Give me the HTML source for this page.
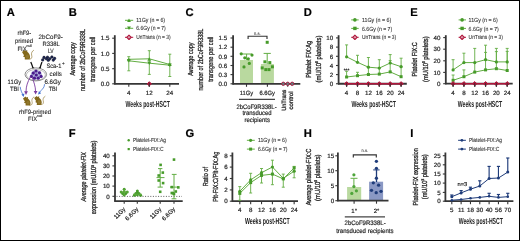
<!DOCTYPE html>
<html><head><meta charset="utf-8"><style>
html,body{margin:0;padding:0;background:#fff;}
svg{display:block;will-change:transform;}
text{font-family:"Liberation Sans", sans-serif;text-rendering:geometricPrecision;}
</style></head><body>
<svg xmlns="http://www.w3.org/2000/svg" width="520" height="241" viewBox="0 0 520 241">
<rect width="520" height="241" fill="#fff"/>
<rect x="0.5" y="0.5" width="519" height="240" fill="none" stroke="#000" stroke-width="1"/>
<text x="6.8" y="16.3" font-size="11.2" fill="#000" stroke="#000" stroke-width="0.18" font-weight="bold">A</text>
<text x="68.8" y="16.3" font-size="11.2" fill="#000" stroke="#000" stroke-width="0.18" font-weight="bold">B</text>
<text x="185.6" y="16.3" font-size="11.2" fill="#000" stroke="#000" stroke-width="0.18" font-weight="bold">C</text>
<text x="303.8" y="16.3" font-size="11.2" fill="#000" stroke="#000" stroke-width="0.18" font-weight="bold">D</text>
<text x="410.3" y="16.3" font-size="11.2" fill="#000" stroke="#000" stroke-width="0.18" font-weight="bold">E</text>
<text x="68.8" y="137.3" font-size="11.2" fill="#000" stroke="#000" stroke-width="0.18" font-weight="bold">F</text>
<text x="185.6" y="137.3" font-size="11.2" fill="#000" stroke="#000" stroke-width="0.18" font-weight="bold">G</text>
<text x="303.8" y="137.3" font-size="11.2" fill="#000" stroke="#000" stroke-width="0.18" font-weight="bold">H</text>
<text x="410.3" y="137.3" font-size="11.2" fill="#000" stroke="#000" stroke-width="0.18" font-weight="bold">I</text>
<g transform="translate(22 49.9) scale(1.07)"><path d="M0,2.0 L1.2,1.0 L2.6,0 L3.3,1.0 L5.0,0.4 L4.9,1.8 C6.4,2.8 7.5,4.6 7.5,6.4 C7.5,8.0 7.2,9.0 6.2,9.0 L2.6,9.0 C2.4,8.2 2.6,7.6 2.8,7.0 L1.0,6.2 L1.9,5.0 C1.4,4.2 0.6,3.2 0,2.0 Z" fill="#83681b"/><ellipse cx="5.0" cy="6.2" rx="1.6" ry="2.0" fill="#9a8238" opacity="0.6"/><path d="M7.0,8.8 C9.2,8.8 9.6,6.6 9.0,4.8 C8.5,3.2 9.3,1.2 10.8,0.4" fill="none" stroke="#83681b" stroke-width="0.7" stroke-linecap="round" opacity="0.8"/></g>
<g transform="translate(23 96.6) scale(1)"><path d="M0,2.0 L1.2,1.0 L2.6,0 L3.3,1.0 L5.0,0.4 L4.9,1.8 C6.4,2.8 7.5,4.6 7.5,6.4 C7.5,8.0 7.2,9.0 6.2,9.0 L2.6,9.0 C2.4,8.2 2.6,7.6 2.8,7.0 L1.0,6.2 L1.9,5.0 C1.4,4.2 0.6,3.2 0,2.0 Z" fill="#83681b"/><ellipse cx="5.0" cy="6.2" rx="1.6" ry="2.0" fill="#9a8238" opacity="0.6"/><path d="M7.0,8.8 C9.2,8.8 9.6,6.6 9.0,4.8 C8.5,3.2 9.3,1.2 10.8,0.4" fill="none" stroke="#83681b" stroke-width="0.7" stroke-linecap="round" opacity="0.8"/></g>
<g transform="translate(34.2 95.9) scale(1)"><path d="M0,2.0 L1.2,1.0 L2.6,0 L3.3,1.0 L5.0,0.4 L4.9,1.8 C6.4,2.8 7.5,4.6 7.5,6.4 C7.5,8.0 7.2,9.0 6.2,9.0 L2.6,9.0 C2.4,8.2 2.6,7.6 2.8,7.0 L1.0,6.2 L1.9,5.0 C1.4,4.2 0.6,3.2 0,2.0 Z" fill="#83681b"/><ellipse cx="5.0" cy="6.2" rx="1.6" ry="2.0" fill="#9a8238" opacity="0.6"/><path d="M7.0,8.8 C9.2,8.8 9.6,6.6 9.0,4.8 C8.5,3.2 9.3,1.2 10.8,0.4" fill="none" stroke="#83681b" stroke-width="0.7" stroke-linecap="round" opacity="0.8"/></g>
<circle cx="44" cy="57.4" r="1.3" fill="#1d2656" stroke="#0c0f1e" stroke-width="0.45"/>
<circle cx="42.7" cy="59.9" r="1.3" fill="#1d2656" stroke="#0c0f1e" stroke-width="0.45"/>
<circle cx="47.5" cy="57.2" r="1.3" fill="#1d2656" stroke="#0c0f1e" stroke-width="0.45"/>
<circle cx="46.3" cy="58.8" r="1.3" fill="#1d2656" stroke="#0c0f1e" stroke-width="0.45"/>
<circle cx="48.3" cy="60.3" r="1.3" fill="#1d2656" stroke="#0c0f1e" stroke-width="0.45"/>
<circle cx="49.8" cy="58.8" r="1.3" fill="#1d2656" stroke="#0c0f1e" stroke-width="0.45"/>
<circle cx="51.9" cy="57" r="1.3" fill="#1d2656" stroke="#0c0f1e" stroke-width="0.45"/>
<circle cx="53.3" cy="60.1" r="1.3" fill="#1d2656" stroke="#0c0f1e" stroke-width="0.45"/>
<circle cx="54.6" cy="58.4" r="1.3" fill="#1d2656" stroke="#0c0f1e" stroke-width="0.45"/>
<path d="M30.8,62.0 C31.6,64.2 32.5,66 33.0,68.4" fill="none" stroke="#111" stroke-width="1.25"/>
<polygon points="31.8,67.6 34.3,67.2 33.4,70.0" fill="#111"/>
<path d="M42.0,62.0 C41.2,64.2 40.4,66 40.0,68.4" fill="none" stroke="#111" stroke-width="1.25"/>
<polygon points="38.7,67.3 41.2,67.6 39.8,70.0" fill="#111"/>
<ellipse cx="35.8" cy="74.4" rx="10.8" ry="6.5" fill="#fff" stroke="#666" stroke-width="0.75"/>
<ellipse cx="35.9" cy="74.9" rx="9.5" ry="5.4" fill="none" stroke="#888" stroke-width="0.55"/>
<ellipse cx="36.3" cy="74.8" rx="5.6" ry="4.6" fill="#aeb0dc"/>
<circle cx="36" cy="71" r="1.6" fill="#4a1c8c"/>
<circle cx="33.3" cy="73.1" r="1.6" fill="#4a1c8c"/>
<circle cx="39.5" cy="72.8" r="1.6" fill="#4a1c8c"/>
<circle cx="36.3" cy="75" r="1.6" fill="#4a1c8c"/>
<circle cx="31.4" cy="76.4" r="1.6" fill="#4a1c8c"/>
<circle cx="41.1" cy="76.4" r="1.6" fill="#4a1c8c"/>
<circle cx="34.4" cy="78.2" r="1.6" fill="#4a1c8c"/>
<circle cx="38.2" cy="78.2" r="1.6" fill="#4a1c8c"/>
<path d="M30.6,76.5 C27.6,82 26.0,86 26.0,92.2" fill="none" stroke="#7a3c9e" stroke-width="0.9"/>
<polygon points="24.1,91.3 27.9,91.3 26.0,94.9" fill="#7a3c9e"/>
<path d="M32.2,77.0 C33.6,82 35.6,86 35.6,92.0" fill="none" stroke="#7a3c9e" stroke-width="0.9"/>
<polygon points="33.7,91.0 37.5,91.0 35.6,94.6" fill="#7a3c9e"/>
<path d="M20.2,86.8 C20.6,90.2 21.8,92.6 23.0,94.8" fill="none" stroke="#3e6fd0" stroke-width="0.8"/>
<polygon points="21.4,94.4 24.4,93.6 23.7,97.0" fill="#3e6fd0"/>
<path d="M44.5,84.2 C44.6,87.4 42.4,89.0 41.2,90.4 C40.6,91.2 40.0,92.0 39.6,92.8" fill="none" stroke="#3e6fd0" stroke-width="0.8"/>
<polygon points="39.0,91.0 41.0,93.4 38.0,94.6" fill="#3e6fd0"/>
<text x="24.3" y="35.4" font-size="6.3" fill="#222" stroke="#222" stroke-width="0.1" text-anchor="middle" textLength="13.6" lengthAdjust="spacingAndGlyphs">rhF9-</text>
<text x="24" y="43.2" font-size="6.3" fill="#222" stroke="#222" stroke-width="0.1" text-anchor="middle" textLength="18" lengthAdjust="spacingAndGlyphs">primed</text>
<text x="17.5" y="50.6" font-size="6.3" fill="#222" stroke="#222" stroke-width="0.1" textLength="9.2" lengthAdjust="spacingAndGlyphs">FIX</text>
<text x="26.6" y="46.8" font-size="3.6" fill="#222" stroke="#222" stroke-width="0.1" textLength="5.2" lengthAdjust="spacingAndGlyphs">null</text>
<text x="50.7" y="39" font-size="6.3" fill="#222" stroke="#222" stroke-width="0.1" text-anchor="middle" textLength="24.2" lengthAdjust="spacingAndGlyphs">2bCoF9-</text>
<text x="51.1" y="46" font-size="6.3" fill="#222" stroke="#222" stroke-width="0.1" text-anchor="middle" textLength="17.4" lengthAdjust="spacingAndGlyphs">R338L</text>
<text x="50.8" y="52.8" font-size="6.3" fill="#222" stroke="#222" stroke-width="0.1" text-anchor="middle" textLength="5.8" lengthAdjust="spacingAndGlyphs">LV</text>
<text x="46.4" y="67.9" font-size="6.3" fill="#222" stroke="#222" stroke-width="0.1" textLength="15" lengthAdjust="spacingAndGlyphs">Sca-1</text>
<text x="62" y="64.6" font-size="4.6" fill="#222" stroke="#222" stroke-width="0.1">+</text>
<text x="55.75" y="75.6" font-size="6.3" fill="#222" stroke="#222" stroke-width="0.1" text-anchor="middle" textLength="12.3" lengthAdjust="spacingAndGlyphs">cells</text>
<text x="14.4" y="83.7" font-size="6.3" fill="#222" stroke="#222" stroke-width="0.1" text-anchor="middle" textLength="13.6" lengthAdjust="spacingAndGlyphs">11Gy</text>
<text x="14.45" y="90.7" font-size="6.3" fill="#222" stroke="#222" stroke-width="0.1" text-anchor="middle" textLength="9.1" lengthAdjust="spacingAndGlyphs">TBI</text>
<text x="52.7" y="83.7" font-size="6.3" fill="#222" stroke="#222" stroke-width="0.1" text-anchor="middle" textLength="16.4" lengthAdjust="spacingAndGlyphs">6.6Gy</text>
<text x="53" y="90.7" font-size="6.3" fill="#222" stroke="#222" stroke-width="0.1" text-anchor="middle" textLength="8.7" lengthAdjust="spacingAndGlyphs">TBI</text>
<text x="35" y="114" font-size="6.3" fill="#222" stroke="#222" stroke-width="0.1" text-anchor="middle" textLength="31.8" lengthAdjust="spacingAndGlyphs">rhF9-primed</text>
<text x="28" y="121" font-size="6.3" fill="#222" stroke="#222" stroke-width="0.1" textLength="9.2" lengthAdjust="spacingAndGlyphs">FIX</text>
<text x="37.1" y="117.2" font-size="3.6" fill="#222" stroke="#222" stroke-width="0.1" textLength="5.2" lengthAdjust="spacingAndGlyphs">null</text>
<line x1="114.8" y1="35.2" x2="114.8" y2="84.4" stroke="#363636" stroke-width="1.8"/>
<line x1="112.2" y1="38.2" x2="114.8" y2="38.2" stroke="#363636" stroke-width="1.1"/>
<text x="109.4" y="40.43" font-size="6.2" fill="#222" stroke="#222" stroke-width="0.18" text-anchor="end">1.5</text>
<line x1="112.2" y1="53.4" x2="114.8" y2="53.4" stroke="#363636" stroke-width="1.1"/>
<text x="109.4" y="55.63" font-size="6.2" fill="#222" stroke="#222" stroke-width="0.18" text-anchor="end">1.0</text>
<line x1="112.2" y1="68.7" x2="114.8" y2="68.7" stroke="#363636" stroke-width="1.1"/>
<text x="109.4" y="70.93" font-size="6.2" fill="#222" stroke="#222" stroke-width="0.18" text-anchor="end">0.5</text>
<line x1="112.2" y1="83.8" x2="114.8" y2="83.8" stroke="#363636" stroke-width="1.1"/>
<text x="109.4" y="86.03" font-size="6.2" fill="#222" stroke="#222" stroke-width="0.18" text-anchor="end">0.0</text>
<line x1="114.2" y1="83.8" x2="179" y2="83.8" stroke="#363636" stroke-width="1.8"/>
<line x1="128.8" y1="83.8" x2="128.8" y2="86.8" stroke="#363636" stroke-width="1.1"/>
<text x="128.8" y="95.43" font-size="6.2" fill="#222" stroke="#222" stroke-width="0.18" text-anchor="middle">4</text>
<line x1="149.3" y1="83.8" x2="149.3" y2="86.8" stroke="#363636" stroke-width="1.1"/>
<text x="149.3" y="95.43" font-size="6.2" fill="#222" stroke="#222" stroke-width="0.18" text-anchor="middle">12</text>
<line x1="169.8" y1="83.8" x2="169.8" y2="86.8" stroke="#363636" stroke-width="1.1"/>
<text x="169.8" y="95.43" font-size="6.2" fill="#222" stroke="#222" stroke-width="0.18" text-anchor="middle">24</text>
<text x="125.6" y="106.6" font-size="8.8" fill="#222" font-weight="bold" textLength="44.2" lengthAdjust="spacingAndGlyphs">Weeks post-HSCT</text>
<text transform="translate(74.8 58.9) rotate(-90)" font-size="7.3" fill="#222" stroke="#222" stroke-width="0.28" text-anchor="middle" textLength="33.3" lengthAdjust="spacingAndGlyphs">Average copy</text>
<text transform="translate(84.8 60) rotate(-90)" font-size="7.3" fill="#222" stroke="#222" stroke-width="0.28" text-anchor="middle" textLength="62" lengthAdjust="spacingAndGlyphs">number of 2bCoF9R338L</text>
<text transform="translate(94.8 59.2) rotate(-90)" font-size="7.3" fill="#222" stroke="#222" stroke-width="0.28" text-anchor="middle" textLength="45" lengthAdjust="spacingAndGlyphs">transgene per cell</text>
<polyline points="128.8,59.3 149.3,58.8 169.8,64.5" fill="none" stroke="#62ad42" stroke-width="1"/>
<polyline points="128.8,60.8 149.3,63.2 169.8,65.2" fill="none" stroke="#62ad42" stroke-width="1"/>
<line x1="128.8" y1="56.7" x2="128.8" y2="70.8" stroke="#62ad42" stroke-width="0.9"/>
<line x1="127.3" y1="56.7" x2="130.3" y2="56.7" stroke="#62ad42" stroke-width="0.9"/>
<line x1="127.3" y1="70.8" x2="130.3" y2="70.8" stroke="#62ad42" stroke-width="0.9"/>
<line x1="149.3" y1="50.7" x2="149.3" y2="74.4" stroke="#62ad42" stroke-width="0.9"/>
<line x1="147.8" y1="50.7" x2="150.8" y2="50.7" stroke="#62ad42" stroke-width="0.9"/>
<line x1="147.8" y1="74.4" x2="150.8" y2="74.4" stroke="#62ad42" stroke-width="0.9"/>
<line x1="169.8" y1="54.2" x2="169.8" y2="76.5" stroke="#62ad42" stroke-width="0.9"/>
<line x1="168.3" y1="54.2" x2="171.3" y2="54.2" stroke="#62ad42" stroke-width="0.9"/>
<line x1="168.3" y1="76.5" x2="171.3" y2="76.5" stroke="#62ad42" stroke-width="0.9"/>
<polygon points="126.85,61.16 130.75,61.16 128.8,57.64" fill="#479b2a"/>
<polygon points="126.85,59.04 130.75,59.04 128.8,62.55" fill="#479b2a"/>
<polygon points="147.35,60.66 151.25,60.66 149.3,57.14" fill="#479b2a"/>
<polygon points="147.35,61.45 151.25,61.45 149.3,64.95" fill="#479b2a"/>
<polygon points="167.85,66.05 171.75,66.05 169.8,62.54" fill="#479b2a"/>
<polygon points="167.85,63.54 171.75,63.54 169.8,67.05" fill="#479b2a"/>
<polygon points="149.3,81.7 151.4,83.8 149.3,85.9 147.2,83.8" fill="#b0163c" stroke="#b0163c" stroke-width="1" stroke-linejoin="round"/>
<ellipse cx="149.3" cy="83.8" rx="0.46" ry="1.05" fill="#3a3030"/>
<line x1="149.3" y1="84.4" x2="149.3" y2="86.8" stroke="#363636" stroke-width="1.1"/>
<line x1="125" y1="20.3" x2="133.2" y2="20.3" stroke="#62ad42" stroke-width="1"/>
<polygon points="127.1,22.01 130.9,22.01 129,18.59" fill="#479b2a"/>
<text x="136.3" y="22.42" font-size="5.9" fill="#333" stroke="#333" stroke-width="0.1" textLength="28.8" lengthAdjust="spacingAndGlyphs">11Gy (n = 6)</text>
<line x1="125" y1="28.3" x2="133.2" y2="28.3" stroke="#62ad42" stroke-width="1"/>
<polygon points="127.1,26.59 130.9,26.59 129,30.01" fill="#479b2a"/>
<text x="136.3" y="30.42" font-size="5.9" fill="#333" stroke="#333" stroke-width="0.1" textLength="29.4" lengthAdjust="spacingAndGlyphs">6.6Gy (n = 7)</text>
<line x1="125" y1="37.3" x2="133.2" y2="37.3" stroke="#b0163c" stroke-width="1"/>
<polygon points="129,35.1 131.2,37.3 129,39.5 126.8,37.3" fill="#f0dde2" stroke="#b0163c" stroke-width="1.1" stroke-linejoin="round"/>
<line x1="129" y1="36.2" x2="129" y2="38.4" stroke="#b0163c" stroke-width="0.6"/>
<text x="136.3" y="39.42" font-size="5.9" fill="#333" stroke="#333" stroke-width="0.1" textLength="34.4" lengthAdjust="spacingAndGlyphs">UnTrans (n = 3)</text>
<line x1="233.1" y1="35.2" x2="233.1" y2="84.4" stroke="#363636" stroke-width="1.8"/>
<line x1="230.5" y1="38" x2="233.1" y2="38" stroke="#363636" stroke-width="1.1"/>
<text x="227.2" y="40.23" font-size="6.2" fill="#222" stroke="#222" stroke-width="0.18" text-anchor="end">1.5</text>
<line x1="230.5" y1="47.2" x2="233.1" y2="47.2" stroke="#363636" stroke-width="1.1"/>
<text x="227.2" y="49.43" font-size="6.2" fill="#222" stroke="#222" stroke-width="0.18" text-anchor="end">1.2</text>
<line x1="230.5" y1="56.3" x2="233.1" y2="56.3" stroke="#363636" stroke-width="1.1"/>
<text x="227.2" y="58.53" font-size="6.2" fill="#222" stroke="#222" stroke-width="0.18" text-anchor="end">0.9</text>
<line x1="230.5" y1="65.5" x2="233.1" y2="65.5" stroke="#363636" stroke-width="1.1"/>
<text x="227.2" y="67.73" font-size="6.2" fill="#222" stroke="#222" stroke-width="0.18" text-anchor="end">0.6</text>
<line x1="230.5" y1="74.6" x2="233.1" y2="74.6" stroke="#363636" stroke-width="1.1"/>
<text x="227.2" y="76.83" font-size="6.2" fill="#222" stroke="#222" stroke-width="0.18" text-anchor="end">0.3</text>
<line x1="230.5" y1="83.8" x2="233.1" y2="83.8" stroke="#363636" stroke-width="1.1"/>
<text x="227.2" y="86.03" font-size="6.2" fill="#222" stroke="#222" stroke-width="0.18" text-anchor="end">0.0</text>
<rect x="240" y="60" width="13" height="23.8" fill="#b9d99f"/>
<rect x="260.9" y="64" width="13" height="19.8" fill="#b9d99f"/>
<line x1="232.5" y1="83.8" x2="300.3" y2="83.8" stroke="#363636" stroke-width="1.8"/>
<line x1="246.5" y1="83.8" x2="246.5" y2="86.8" stroke="#363636" stroke-width="1.1"/>
<line x1="267.4" y1="83.8" x2="267.4" y2="86.8" stroke="#363636" stroke-width="1.1"/>
<line x1="287.7" y1="83.8" x2="287.7" y2="86.8" stroke="#363636" stroke-width="1.1"/>
<line x1="246.6" y1="54" x2="246.6" y2="60" stroke="#62ad42" stroke-width="1"/>
<line x1="241.2" y1="54" x2="252" y2="54" stroke="#62ad42" stroke-width="1"/>
<line x1="267.2" y1="53.4" x2="267.2" y2="64" stroke="#62ad42" stroke-width="1"/>
<line x1="263.6" y1="53.4" x2="270.8" y2="53.4" stroke="#62ad42" stroke-width="1"/>
<circle cx="241.2" cy="53.8" r="1.6" fill="#479b2a"/>
<circle cx="252" cy="55.1" r="1.6" fill="#479b2a"/>
<circle cx="244.8" cy="57.8" r="1.6" fill="#479b2a"/>
<circle cx="248.3" cy="58.8" r="1.6" fill="#479b2a"/>
<circle cx="249.3" cy="63.4" r="1.6" fill="#479b2a"/>
<circle cx="244" cy="66.9" r="1.6" fill="#479b2a"/>
<rect x="265.7" y="40.8" width="3" height="3" fill="#479b2a"/>
<rect x="263.4" y="60.3" width="3" height="3" fill="#479b2a"/>
<rect x="268.3" y="61.1" width="3" height="3" fill="#479b2a"/>
<rect x="270.9" y="65.3" width="3" height="3" fill="#479b2a"/>
<rect x="260.7" y="66.4" width="3" height="3" fill="#479b2a"/>
<rect x="264.3" y="68.1" width="3" height="3" fill="#479b2a"/>
<rect x="267.5" y="68.1" width="3" height="3" fill="#479b2a"/>
<circle cx="283.3" cy="83.8" r="1.7" fill="#5f8080" stroke="#b0163c" stroke-width="0.9"/>
<circle cx="287.7" cy="83.8" r="1.7" fill="#5f8080" stroke="#b0163c" stroke-width="0.9"/>
<circle cx="292.2" cy="83.8" r="1.7" fill="#5f8080" stroke="#b0163c" stroke-width="0.9"/>
<polyline points="248.1,38.9 248.1,36.2 267,36.2 267,38.9" fill="none" stroke="#333" stroke-width="1.15"/>
<text x="257.4" y="34.5" font-size="4.6" fill="#444" stroke="#444" stroke-width="0.1" text-anchor="middle" textLength="6.6" lengthAdjust="spacingAndGlyphs">n.s.</text>
<text x="246.4" y="95.05" font-size="6.2" fill="#222" stroke="#222" stroke-width="0.18" text-anchor="middle" textLength="13.4" lengthAdjust="spacingAndGlyphs">11Gy</text>
<text x="267.2" y="95.05" font-size="6.2" fill="#222" stroke="#222" stroke-width="0.18" text-anchor="middle" textLength="15.6" lengthAdjust="spacingAndGlyphs">6.6Gy</text>
<line x1="239" y1="99.3" x2="275" y2="99.3" stroke="#444" stroke-width="1.3"/>
<text x="256.5" y="109" font-size="6.4" fill="#222" stroke="#222" stroke-width="0.18" text-anchor="middle" textLength="40.2" lengthAdjust="spacingAndGlyphs">2bCoF9R338L-</text>
<text x="257" y="115.4" font-size="6.4" fill="#222" stroke="#222" stroke-width="0.18" text-anchor="middle" textLength="29.2" lengthAdjust="spacingAndGlyphs">transduced</text>
<text x="257.2" y="121.7" font-size="6.4" fill="#222" stroke="#222" stroke-width="0.18" text-anchor="middle" textLength="25.4" lengthAdjust="spacingAndGlyphs">recipients</text>
<text transform="translate(286 100.2) rotate(-90)" font-size="6.2" fill="#222" stroke="#222" stroke-width="0.28" text-anchor="middle" textLength="21.2" lengthAdjust="spacingAndGlyphs">UnTrans</text>
<text transform="translate(292.8 100.5) rotate(-90)" font-size="6.2" fill="#222" stroke="#222" stroke-width="0.28" text-anchor="middle" textLength="18" lengthAdjust="spacingAndGlyphs">control</text>
<text transform="translate(193 59.2) rotate(-90)" font-size="7.3" fill="#222" stroke="#222" stroke-width="0.28" text-anchor="middle" textLength="33.3" lengthAdjust="spacingAndGlyphs">Average copy</text>
<text transform="translate(203 59.6) rotate(-90)" font-size="7.3" fill="#222" stroke="#222" stroke-width="0.28" text-anchor="middle" textLength="62" lengthAdjust="spacingAndGlyphs">number of 2bCoF9R338L</text>
<text transform="translate(213.2 59.2) rotate(-90)" font-size="7.3" fill="#222" stroke="#222" stroke-width="0.28" text-anchor="middle" textLength="45" lengthAdjust="spacingAndGlyphs">transgene per cell</text>
<line x1="338.6" y1="35.2" x2="338.6" y2="84.35" stroke="#363636" stroke-width="1.8"/>
<line x1="336" y1="37.9" x2="338.6" y2="37.9" stroke="#363636" stroke-width="1.1"/>
<text x="333.2" y="40.13" font-size="6.2" fill="#222" stroke="#222" stroke-width="0.18" text-anchor="end">10</text>
<line x1="336" y1="47.1" x2="338.6" y2="47.1" stroke="#363636" stroke-width="1.1"/>
<text x="333.2" y="49.33" font-size="6.2" fill="#222" stroke="#222" stroke-width="0.18" text-anchor="end">8</text>
<line x1="336" y1="56.3" x2="338.6" y2="56.3" stroke="#363636" stroke-width="1.1"/>
<text x="333.2" y="58.53" font-size="6.2" fill="#222" stroke="#222" stroke-width="0.18" text-anchor="end">6</text>
<line x1="336" y1="65.5" x2="338.6" y2="65.5" stroke="#363636" stroke-width="1.1"/>
<text x="333.2" y="67.73" font-size="6.2" fill="#222" stroke="#222" stroke-width="0.18" text-anchor="end">4</text>
<line x1="336" y1="74.6" x2="338.6" y2="74.6" stroke="#363636" stroke-width="1.1"/>
<text x="333.2" y="76.83" font-size="6.2" fill="#222" stroke="#222" stroke-width="0.18" text-anchor="end">2</text>
<line x1="336" y1="83.75" x2="338.6" y2="83.75" stroke="#363636" stroke-width="1.1"/>
<text x="333.2" y="85.98" font-size="6.2" fill="#222" stroke="#222" stroke-width="0.18" text-anchor="end">0</text>
<line x1="338" y1="83.75" x2="406.8" y2="83.75" stroke="#363636" stroke-width="1.8"/>
<line x1="346.6" y1="83.75" x2="346.6" y2="86.75" stroke="#363636" stroke-width="1.1"/>
<text x="346.6" y="95.33" font-size="6.2" fill="#222" stroke="#222" stroke-width="0.18" text-anchor="middle">4</text>
<line x1="357.5" y1="83.75" x2="357.5" y2="86.75" stroke="#363636" stroke-width="1.1"/>
<text x="357.5" y="95.33" font-size="6.2" fill="#222" stroke="#222" stroke-width="0.18" text-anchor="middle">8</text>
<line x1="368.4" y1="83.75" x2="368.4" y2="86.75" stroke="#363636" stroke-width="1.1"/>
<text x="368.4" y="95.33" font-size="6.2" fill="#222" stroke="#222" stroke-width="0.18" text-anchor="middle">12</text>
<line x1="379.3" y1="83.75" x2="379.3" y2="86.75" stroke="#363636" stroke-width="1.1"/>
<text x="379.3" y="95.33" font-size="6.2" fill="#222" stroke="#222" stroke-width="0.18" text-anchor="middle">16</text>
<line x1="390.2" y1="83.75" x2="390.2" y2="86.75" stroke="#363636" stroke-width="1.1"/>
<text x="390.2" y="95.33" font-size="6.2" fill="#222" stroke="#222" stroke-width="0.18" text-anchor="middle">20</text>
<line x1="401.1" y1="83.75" x2="401.1" y2="86.75" stroke="#363636" stroke-width="1.1"/>
<text x="401.1" y="95.33" font-size="6.2" fill="#222" stroke="#222" stroke-width="0.18" text-anchor="middle">24</text>
<text x="351.4" y="106.6" font-size="8.8" fill="#222" font-weight="bold" textLength="44.5" lengthAdjust="spacingAndGlyphs">Weeks post-HSCT</text>
<polyline points="346.6,56.8 357.5,62.3 368.4,67.2 379.3,68.1 390.2,63 401.1,66.7" fill="none" stroke="#62ad42" stroke-width="1"/>
<polyline points="346.6,77 357.5,75.7 368.4,74.5 379.3,74.1 390.2,71.9 401.1,76.7" fill="none" stroke="#62ad42" stroke-width="1"/>
<line x1="346.6" y1="44.9" x2="346.6" y2="56.8" stroke="#62ad42" stroke-width="0.9"/>
<line x1="345.1" y1="44.9" x2="348.1" y2="44.9" stroke="#62ad42" stroke-width="0.9"/>
<line x1="357.5" y1="55.3" x2="357.5" y2="62.3" stroke="#62ad42" stroke-width="0.9"/>
<line x1="356" y1="55.3" x2="359" y2="55.3" stroke="#62ad42" stroke-width="0.9"/>
<line x1="368.4" y1="57.5" x2="368.4" y2="67.2" stroke="#62ad42" stroke-width="0.9"/>
<line x1="366.9" y1="57.5" x2="369.9" y2="57.5" stroke="#62ad42" stroke-width="0.9"/>
<line x1="379.3" y1="59.7" x2="379.3" y2="68.1" stroke="#62ad42" stroke-width="0.9"/>
<line x1="377.8" y1="59.7" x2="380.8" y2="59.7" stroke="#62ad42" stroke-width="0.9"/>
<line x1="390.2" y1="54.6" x2="390.2" y2="63" stroke="#62ad42" stroke-width="0.9"/>
<line x1="388.7" y1="54.6" x2="391.7" y2="54.6" stroke="#62ad42" stroke-width="0.9"/>
<line x1="401.1" y1="58.2" x2="401.1" y2="66.7" stroke="#62ad42" stroke-width="0.9"/>
<line x1="399.6" y1="58.2" x2="402.6" y2="58.2" stroke="#62ad42" stroke-width="0.9"/>
<line x1="346.6" y1="71.3" x2="346.6" y2="77" stroke="#62ad42" stroke-width="0.9"/>
<line x1="345.1" y1="71.3" x2="348.1" y2="71.3" stroke="#62ad42" stroke-width="0.9"/>
<line x1="357.5" y1="72.3" x2="357.5" y2="75.7" stroke="#62ad42" stroke-width="0.9"/>
<line x1="356" y1="72.3" x2="359" y2="72.3" stroke="#62ad42" stroke-width="0.9"/>
<line x1="368.4" y1="67.2" x2="368.4" y2="74.5" stroke="#62ad42" stroke-width="0.9"/>
<line x1="366.9" y1="67.2" x2="369.9" y2="67.2" stroke="#62ad42" stroke-width="0.9"/>
<line x1="379.3" y1="68.1" x2="379.3" y2="74.1" stroke="#62ad42" stroke-width="0.9"/>
<line x1="377.8" y1="68.1" x2="380.8" y2="68.1" stroke="#62ad42" stroke-width="0.9"/>
<line x1="390.2" y1="60.6" x2="390.2" y2="71.9" stroke="#62ad42" stroke-width="0.9"/>
<line x1="388.7" y1="60.6" x2="391.7" y2="60.6" stroke="#62ad42" stroke-width="0.9"/>
<line x1="401.1" y1="66.7" x2="401.1" y2="76.7" stroke="#62ad42" stroke-width="0.9"/>
<line x1="399.6" y1="66.7" x2="402.6" y2="66.7" stroke="#62ad42" stroke-width="0.9"/>
<circle cx="346.6" cy="56.8" r="1.6" fill="#479b2a"/>
<circle cx="357.5" cy="62.3" r="1.6" fill="#479b2a"/>
<circle cx="368.4" cy="67.2" r="1.6" fill="#479b2a"/>
<circle cx="379.3" cy="68.1" r="1.6" fill="#479b2a"/>
<circle cx="390.2" cy="63" r="1.6" fill="#479b2a"/>
<circle cx="401.1" cy="66.7" r="1.6" fill="#479b2a"/>
<rect x="345.1" y="75.5" width="3" height="3" fill="#479b2a"/>
<rect x="356" y="74.2" width="3" height="3" fill="#479b2a"/>
<rect x="366.9" y="73" width="3" height="3" fill="#479b2a"/>
<rect x="377.8" y="72.6" width="3" height="3" fill="#479b2a"/>
<rect x="388.7" y="70.4" width="3" height="3" fill="#479b2a"/>
<rect x="399.6" y="75.2" width="3" height="3" fill="#479b2a"/>
<line x1="346.6" y1="83.75" x2="401.1" y2="83.75" stroke="#b0163c" stroke-width="1.6"/>
<polygon points="346.6,81.65 348.7,83.75 346.6,85.85 344.5,83.75" fill="#b0163c" stroke="#b0163c" stroke-width="1" stroke-linejoin="round"/>
<ellipse cx="346.6" cy="83.75" rx="0.46" ry="1.05" fill="#3a3030"/>
<line x1="346.6" y1="84.35" x2="346.6" y2="86.75" stroke="#363636" stroke-width="1.1"/>
<polygon points="357.5,81.65 359.6,83.75 357.5,85.85 355.4,83.75" fill="#b0163c" stroke="#b0163c" stroke-width="1" stroke-linejoin="round"/>
<ellipse cx="357.5" cy="83.75" rx="0.46" ry="1.05" fill="#3a3030"/>
<line x1="357.5" y1="84.35" x2="357.5" y2="86.75" stroke="#363636" stroke-width="1.1"/>
<polygon points="368.4,81.65 370.5,83.75 368.4,85.85 366.3,83.75" fill="#b0163c" stroke="#b0163c" stroke-width="1" stroke-linejoin="round"/>
<ellipse cx="368.4" cy="83.75" rx="0.46" ry="1.05" fill="#3a3030"/>
<line x1="368.4" y1="84.35" x2="368.4" y2="86.75" stroke="#363636" stroke-width="1.1"/>
<polygon points="379.3,81.65 381.4,83.75 379.3,85.85 377.2,83.75" fill="#b0163c" stroke="#b0163c" stroke-width="1" stroke-linejoin="round"/>
<ellipse cx="379.3" cy="83.75" rx="0.46" ry="1.05" fill="#3a3030"/>
<line x1="379.3" y1="84.35" x2="379.3" y2="86.75" stroke="#363636" stroke-width="1.1"/>
<polygon points="390.2,81.65 392.3,83.75 390.2,85.85 388.1,83.75" fill="#b0163c" stroke="#b0163c" stroke-width="1" stroke-linejoin="round"/>
<ellipse cx="390.2" cy="83.75" rx="0.46" ry="1.05" fill="#3a3030"/>
<line x1="390.2" y1="84.35" x2="390.2" y2="86.75" stroke="#363636" stroke-width="1.1"/>
<polygon points="401.1,81.65 403.2,83.75 401.1,85.85 399,83.75" fill="#b0163c" stroke="#b0163c" stroke-width="1" stroke-linejoin="round"/>
<ellipse cx="401.1" cy="83.75" rx="0.46" ry="1.05" fill="#3a3030"/>
<line x1="401.1" y1="84.35" x2="401.1" y2="86.75" stroke="#363636" stroke-width="1.1"/>
<text x="346.6" y="71.6" font-size="5" fill="#222" stroke="#222" stroke-width="0.18" text-anchor="middle" textLength="5.8" lengthAdjust="spacingAndGlyphs">***</text>
<line x1="351.2" y1="19.9" x2="358.7" y2="19.9" stroke="#62ad42" stroke-width="1"/>
<circle cx="354.9" cy="19.9" r="1.8" fill="#479b2a"/>
<text x="362" y="22.02" font-size="5.9" fill="#333" stroke="#333" stroke-width="0.1" textLength="29.2" lengthAdjust="spacingAndGlyphs">11Gy (n = 6)</text>
<line x1="351.2" y1="28.4" x2="358.7" y2="28.4" stroke="#62ad42" stroke-width="1"/>
<rect x="353.2" y="26.7" width="3.4" height="3.4" fill="#479b2a"/>
<text x="362" y="30.52" font-size="5.9" fill="#333" stroke="#333" stroke-width="0.1" textLength="30.2" lengthAdjust="spacingAndGlyphs">6.6Gy (n = 7)</text>
<line x1="351.2" y1="37.3" x2="358.7" y2="37.3" stroke="#b0163c" stroke-width="1"/>
<polygon points="354.9,35.1 357.1,37.3 354.9,39.5 352.7,37.3" fill="#f0dde2" stroke="#b0163c" stroke-width="1.1" stroke-linejoin="round"/>
<line x1="354.9" y1="36.2" x2="354.9" y2="38.4" stroke="#b0163c" stroke-width="0.6"/>
<text x="362" y="39.42" font-size="5.9" fill="#333" stroke="#333" stroke-width="0.1" textLength="34.2" lengthAdjust="spacingAndGlyphs">UnTrans (n = 3)</text>
<text transform="translate(310.8 59.4) rotate(-90)" font-size="7.3" fill="#222" stroke="#222" stroke-width="0.28" text-anchor="middle" textLength="36.8" lengthAdjust="spacingAndGlyphs">Platelet FIX:Ag</text>
<text transform="translate(321 59) rotate(-90)" font-size="7.3" fill="#222" stroke="#222" stroke-width="0.28" text-anchor="middle" textLength="46.8" lengthAdjust="spacingAndGlyphs">(mU/10<tspan font-size="4" dy="-2.6">8</tspan><tspan dy="2.6"> platelets)</tspan></text>
<line x1="445.8" y1="35.2" x2="445.8" y2="84.3" stroke="#363636" stroke-width="1.8"/>
<line x1="443.2" y1="37.6" x2="445.8" y2="37.6" stroke="#363636" stroke-width="1.1"/>
<text x="440.4" y="39.83" font-size="6.2" fill="#222" stroke="#222" stroke-width="0.18" text-anchor="end">40</text>
<line x1="443.2" y1="49.2" x2="445.8" y2="49.2" stroke="#363636" stroke-width="1.1"/>
<text x="440.4" y="51.43" font-size="6.2" fill="#222" stroke="#222" stroke-width="0.18" text-anchor="end">30</text>
<line x1="443.2" y1="60.8" x2="445.8" y2="60.8" stroke="#363636" stroke-width="1.1"/>
<text x="440.4" y="63.03" font-size="6.2" fill="#222" stroke="#222" stroke-width="0.18" text-anchor="end">20</text>
<line x1="443.2" y1="72.4" x2="445.8" y2="72.4" stroke="#363636" stroke-width="1.1"/>
<text x="440.4" y="74.63" font-size="6.2" fill="#222" stroke="#222" stroke-width="0.18" text-anchor="end">10</text>
<line x1="443.2" y1="83.7" x2="445.8" y2="83.7" stroke="#363636" stroke-width="1.1"/>
<text x="440.4" y="85.93" font-size="6.2" fill="#222" stroke="#222" stroke-width="0.18" text-anchor="end">0</text>
<line x1="445.2" y1="83.7" x2="512.7" y2="83.7" stroke="#363636" stroke-width="1.8"/>
<line x1="453.1" y1="83.7" x2="453.1" y2="86.7" stroke="#363636" stroke-width="1.1"/>
<text x="453.1" y="95.13" font-size="6.2" fill="#222" stroke="#222" stroke-width="0.18" text-anchor="middle">4</text>
<line x1="463.92" y1="83.7" x2="463.92" y2="86.7" stroke="#363636" stroke-width="1.1"/>
<text x="463.92" y="95.13" font-size="6.2" fill="#222" stroke="#222" stroke-width="0.18" text-anchor="middle">8</text>
<line x1="474.74" y1="83.7" x2="474.74" y2="86.7" stroke="#363636" stroke-width="1.1"/>
<text x="474.74" y="95.13" font-size="6.2" fill="#222" stroke="#222" stroke-width="0.18" text-anchor="middle">12</text>
<line x1="485.56" y1="83.7" x2="485.56" y2="86.7" stroke="#363636" stroke-width="1.1"/>
<text x="485.56" y="95.13" font-size="6.2" fill="#222" stroke="#222" stroke-width="0.18" text-anchor="middle">16</text>
<line x1="496.38" y1="83.7" x2="496.38" y2="86.7" stroke="#363636" stroke-width="1.1"/>
<text x="496.38" y="95.13" font-size="6.2" fill="#222" stroke="#222" stroke-width="0.18" text-anchor="middle">20</text>
<line x1="507.2" y1="83.7" x2="507.2" y2="86.7" stroke="#363636" stroke-width="1.1"/>
<text x="507.2" y="95.13" font-size="6.2" fill="#222" stroke="#222" stroke-width="0.18" text-anchor="middle">24</text>
<text x="457.8" y="106.6" font-size="8.8" fill="#222" font-weight="bold" textLength="44.4" lengthAdjust="spacingAndGlyphs">Weeks post-HSCT</text>
<polyline points="453.1,69.9 463.92,62.6 474.74,62.6 485.56,59.7 496.38,61.9 507.2,61.9" fill="none" stroke="#62ad42" stroke-width="1"/>
<polyline points="453.1,80.3 463.92,76.7 474.74,72.1 485.56,69.9 496.38,68.7 507.2,70.5" fill="none" stroke="#62ad42" stroke-width="1"/>
<line x1="453.1" y1="59.7" x2="453.1" y2="69.9" stroke="#62ad42" stroke-width="0.9"/>
<line x1="451.6" y1="59.7" x2="454.6" y2="59.7" stroke="#62ad42" stroke-width="0.9"/>
<line x1="463.92" y1="53.2" x2="463.92" y2="62.6" stroke="#62ad42" stroke-width="0.9"/>
<line x1="462.42" y1="53.2" x2="465.42" y2="53.2" stroke="#62ad42" stroke-width="0.9"/>
<line x1="474.74" y1="48.4" x2="474.74" y2="62.6" stroke="#62ad42" stroke-width="0.9"/>
<line x1="473.24" y1="48.4" x2="476.24" y2="48.4" stroke="#62ad42" stroke-width="0.9"/>
<line x1="485.56" y1="45.2" x2="485.56" y2="59.7" stroke="#62ad42" stroke-width="0.9"/>
<line x1="484.06" y1="45.2" x2="487.06" y2="45.2" stroke="#62ad42" stroke-width="0.9"/>
<line x1="496.38" y1="48.4" x2="496.38" y2="61.9" stroke="#62ad42" stroke-width="0.9"/>
<line x1="494.88" y1="48.4" x2="497.88" y2="48.4" stroke="#62ad42" stroke-width="0.9"/>
<line x1="507.2" y1="48.4" x2="507.2" y2="61.9" stroke="#62ad42" stroke-width="0.9"/>
<line x1="505.7" y1="48.4" x2="508.7" y2="48.4" stroke="#62ad42" stroke-width="0.9"/>
<line x1="453.1" y1="75" x2="453.1" y2="80.3" stroke="#62ad42" stroke-width="0.9"/>
<line x1="451.6" y1="75" x2="454.6" y2="75" stroke="#62ad42" stroke-width="0.9"/>
<line x1="463.92" y1="69.9" x2="463.92" y2="76.7" stroke="#62ad42" stroke-width="0.9"/>
<line x1="462.42" y1="69.9" x2="465.42" y2="69.9" stroke="#62ad42" stroke-width="0.9"/>
<line x1="474.74" y1="62.6" x2="474.74" y2="72.1" stroke="#62ad42" stroke-width="0.9"/>
<line x1="473.24" y1="62.6" x2="476.24" y2="62.6" stroke="#62ad42" stroke-width="0.9"/>
<line x1="485.56" y1="52.4" x2="485.56" y2="69.9" stroke="#62ad42" stroke-width="0.9"/>
<line x1="484.06" y1="52.4" x2="487.06" y2="52.4" stroke="#62ad42" stroke-width="0.9"/>
<line x1="496.38" y1="51.6" x2="496.38" y2="68.7" stroke="#62ad42" stroke-width="0.9"/>
<line x1="494.88" y1="51.6" x2="497.88" y2="51.6" stroke="#62ad42" stroke-width="0.9"/>
<line x1="507.2" y1="51.4" x2="507.2" y2="70.5" stroke="#62ad42" stroke-width="0.9"/>
<line x1="505.7" y1="51.4" x2="508.7" y2="51.4" stroke="#62ad42" stroke-width="0.9"/>
<circle cx="453.1" cy="69.9" r="1.6" fill="#479b2a"/>
<circle cx="463.92" cy="62.6" r="1.6" fill="#479b2a"/>
<circle cx="474.74" cy="62.6" r="1.6" fill="#479b2a"/>
<circle cx="485.56" cy="59.7" r="1.6" fill="#479b2a"/>
<circle cx="496.38" cy="61.9" r="1.6" fill="#479b2a"/>
<circle cx="507.2" cy="61.9" r="1.6" fill="#479b2a"/>
<rect x="451.6" y="78.8" width="3" height="3" fill="#479b2a"/>
<rect x="462.42" y="75.2" width="3" height="3" fill="#479b2a"/>
<rect x="473.24" y="70.6" width="3" height="3" fill="#479b2a"/>
<rect x="484.06" y="68.4" width="3" height="3" fill="#479b2a"/>
<rect x="494.88" y="67.2" width="3" height="3" fill="#479b2a"/>
<rect x="505.7" y="69" width="3" height="3" fill="#479b2a"/>
<line x1="453.1" y1="83.7" x2="507.2" y2="83.7" stroke="#b0163c" stroke-width="1.6"/>
<polygon points="453.1,81.6 455.2,83.7 453.1,85.8 451,83.7" fill="#b0163c" stroke="#b0163c" stroke-width="1" stroke-linejoin="round"/>
<ellipse cx="453.1" cy="83.7" rx="0.46" ry="1.05" fill="#3a3030"/>
<line x1="453.1" y1="84.3" x2="453.1" y2="86.7" stroke="#363636" stroke-width="1.1"/>
<polygon points="463.92,81.6 466.02,83.7 463.92,85.8 461.82,83.7" fill="#b0163c" stroke="#b0163c" stroke-width="1" stroke-linejoin="round"/>
<ellipse cx="463.92" cy="83.7" rx="0.46" ry="1.05" fill="#3a3030"/>
<line x1="463.92" y1="84.3" x2="463.92" y2="86.7" stroke="#363636" stroke-width="1.1"/>
<polygon points="474.74,81.6 476.84,83.7 474.74,85.8 472.64,83.7" fill="#b0163c" stroke="#b0163c" stroke-width="1" stroke-linejoin="round"/>
<ellipse cx="474.74" cy="83.7" rx="0.46" ry="1.05" fill="#3a3030"/>
<line x1="474.74" y1="84.3" x2="474.74" y2="86.7" stroke="#363636" stroke-width="1.1"/>
<polygon points="485.56,81.6 487.66,83.7 485.56,85.8 483.46,83.7" fill="#b0163c" stroke="#b0163c" stroke-width="1" stroke-linejoin="round"/>
<ellipse cx="485.56" cy="83.7" rx="0.46" ry="1.05" fill="#3a3030"/>
<line x1="485.56" y1="84.3" x2="485.56" y2="86.7" stroke="#363636" stroke-width="1.1"/>
<polygon points="496.38,81.6 498.48,83.7 496.38,85.8 494.28,83.7" fill="#b0163c" stroke="#b0163c" stroke-width="1" stroke-linejoin="round"/>
<ellipse cx="496.38" cy="83.7" rx="0.46" ry="1.05" fill="#3a3030"/>
<line x1="496.38" y1="84.3" x2="496.38" y2="86.7" stroke="#363636" stroke-width="1.1"/>
<polygon points="507.2,81.6 509.3,83.7 507.2,85.8 505.1,83.7" fill="#b0163c" stroke="#b0163c" stroke-width="1" stroke-linejoin="round"/>
<ellipse cx="507.2" cy="83.7" rx="0.46" ry="1.05" fill="#3a3030"/>
<line x1="507.2" y1="84.3" x2="507.2" y2="86.7" stroke="#363636" stroke-width="1.1"/>
<line x1="458.6" y1="19.9" x2="466" y2="19.9" stroke="#62ad42" stroke-width="1"/>
<circle cx="462.1" cy="19.9" r="1.8" fill="#479b2a"/>
<text x="468.6" y="22.02" font-size="5.9" fill="#333" stroke="#333" stroke-width="0.1" textLength="29.2" lengthAdjust="spacingAndGlyphs">11Gy (n = 6)</text>
<line x1="458.6" y1="28.4" x2="466" y2="28.4" stroke="#62ad42" stroke-width="1"/>
<rect x="460.4" y="26.7" width="3.4" height="3.4" fill="#479b2a"/>
<text x="468.6" y="30.52" font-size="5.9" fill="#333" stroke="#333" stroke-width="0.1" textLength="30.2" lengthAdjust="spacingAndGlyphs">6.6Gy (n = 7)</text>
<line x1="458.6" y1="37.3" x2="466" y2="37.3" stroke="#b0163c" stroke-width="1"/>
<polygon points="462.1,35.1 464.3,37.3 462.1,39.5 459.9,37.3" fill="#f0dde2" stroke="#b0163c" stroke-width="1.1" stroke-linejoin="round"/>
<line x1="462.1" y1="36.2" x2="462.1" y2="38.4" stroke="#b0163c" stroke-width="0.6"/>
<text x="468.6" y="39.42" font-size="5.9" fill="#333" stroke="#333" stroke-width="0.1" textLength="34.2" lengthAdjust="spacingAndGlyphs">UnTrans (n = 3)</text>
<text transform="translate(416.9 59.3) rotate(-90)" font-size="7.3" fill="#222" stroke="#222" stroke-width="0.28" text-anchor="middle" textLength="34.2" lengthAdjust="spacingAndGlyphs">Platelet FIX:C</text>
<text transform="translate(427.5 59.2) rotate(-90)" font-size="7.3" fill="#222" stroke="#222" stroke-width="0.28" text-anchor="middle" textLength="45.5" lengthAdjust="spacingAndGlyphs">(mU/10<tspan font-size="4" dy="-2.6">8</tspan><tspan dy="2.6"> platelets)</tspan></text>
<line x1="115" y1="152.5" x2="115" y2="201.8" stroke="#363636" stroke-width="1.8"/>
<line x1="112.4" y1="155.8" x2="115" y2="155.8" stroke="#363636" stroke-width="1.1"/>
<text x="109.8" y="158.03" font-size="6.2" fill="#222" stroke="#222" stroke-width="0.18" text-anchor="end">40</text>
<line x1="112.4" y1="165.9" x2="115" y2="165.9" stroke="#363636" stroke-width="1.1"/>
<text x="109.8" y="168.13" font-size="6.2" fill="#222" stroke="#222" stroke-width="0.18" text-anchor="end">30</text>
<line x1="112.4" y1="176" x2="115" y2="176" stroke="#363636" stroke-width="1.1"/>
<text x="109.8" y="178.23" font-size="6.2" fill="#222" stroke="#222" stroke-width="0.18" text-anchor="end">20</text>
<line x1="112.4" y1="186.1" x2="115" y2="186.1" stroke="#363636" stroke-width="1.1"/>
<text x="109.8" y="188.33" font-size="6.2" fill="#222" stroke="#222" stroke-width="0.18" text-anchor="end">10</text>
<line x1="112.4" y1="196.3" x2="115" y2="196.3" stroke="#363636" stroke-width="1.1"/>
<text x="109.8" y="198.53" font-size="6.2" fill="#222" stroke="#222" stroke-width="0.18" text-anchor="end">0</text>
<line x1="114.4" y1="201.2" x2="182.7" y2="201.2" stroke="#363636" stroke-width="1.8"/>
<line x1="124.2" y1="201.2" x2="124.2" y2="203.8" stroke="#363636" stroke-width="1.1"/>
<line x1="137.3" y1="201.2" x2="137.3" y2="203.8" stroke="#363636" stroke-width="1.1"/>
<line x1="160.2" y1="201.2" x2="160.2" y2="203.8" stroke="#363636" stroke-width="1.1"/>
<line x1="174" y1="201.2" x2="174" y2="203.8" stroke="#363636" stroke-width="1.1"/>
<line x1="116.5" y1="196.4" x2="182" y2="196.4" stroke="#333" stroke-width="0.8" stroke-dasharray="1.0 1.6"/>
<circle cx="124.2" cy="189.3" r="1.5" fill="#479b2a"/>
<circle cx="121.2" cy="192" r="1.5" fill="#479b2a"/>
<circle cx="127.2" cy="192" r="1.5" fill="#479b2a"/>
<circle cx="124.2" cy="195" r="1.5" fill="#479b2a"/>
<circle cx="122.7" cy="193.4" r="1.5" fill="#479b2a"/>
<circle cx="125.7" cy="193.4" r="1.5" fill="#479b2a"/>
<circle cx="124.2" cy="191.8" r="1.5" fill="#479b2a"/>
<line x1="120" y1="192" x2="128.4" y2="192" stroke="#62ad42" stroke-width="1"/>
<line x1="124.2" y1="188.6" x2="124.2" y2="195.6" stroke="#62ad42" stroke-width="1"/>
<circle cx="137.4" cy="190.9" r="1.5" fill="#479b2a"/>
<circle cx="135.8" cy="193.6" r="1.5" fill="#479b2a"/>
<circle cx="139" cy="193.6" r="1.5" fill="#479b2a"/>
<circle cx="137.4" cy="194.8" r="1.5" fill="#479b2a"/>
<circle cx="134.4" cy="195.3" r="1.5" fill="#479b2a"/>
<circle cx="140.6" cy="195.3" r="1.5" fill="#479b2a"/>
<circle cx="137.4" cy="192.8" r="1.5" fill="#479b2a"/>
<line x1="133" y1="194.2" x2="141.8" y2="194.2" stroke="#62ad42" stroke-width="1"/>
<line x1="160.2" y1="168.6" x2="160.2" y2="187.1" stroke="#62ad42" stroke-width="1"/>
<line x1="158" y1="168.6" x2="162.4" y2="168.6" stroke="#62ad42" stroke-width="1"/>
<line x1="157.6" y1="187.1" x2="162.8" y2="187.1" stroke="#62ad42" stroke-width="1"/>
<line x1="156.5" y1="177.6" x2="164.5" y2="177.6" stroke="#62ad42" stroke-width="1"/>
<rect x="159.3" y="163.6" width="2.6" height="2.6" fill="#479b2a"/>
<rect x="161.5" y="171.3" width="2.6" height="2.6" fill="#479b2a"/>
<rect x="157.4" y="174.2" width="2.6" height="2.6" fill="#479b2a"/>
<rect x="157.4" y="179.2" width="2.6" height="2.6" fill="#479b2a"/>
<rect x="161.8" y="181.8" width="2.6" height="2.6" fill="#479b2a"/>
<rect x="158.9" y="190.5" width="2.6" height="2.6" fill="#479b2a"/>
<line x1="174" y1="174.4" x2="174" y2="198.8" stroke="#62ad42" stroke-width="1"/>
<line x1="171.8" y1="174.4" x2="176.6" y2="174.4" stroke="#62ad42" stroke-width="1"/>
<line x1="171.6" y1="198.8" x2="176.4" y2="198.8" stroke="#62ad42" stroke-width="1"/>
<line x1="170" y1="187.1" x2="179" y2="187.1" stroke="#62ad42" stroke-width="1"/>
<rect x="172.7" y="158.3" width="2.6" height="2.6" fill="#479b2a"/>
<rect x="170.5" y="185.8" width="2.6" height="2.6" fill="#479b2a"/>
<rect x="177" y="186.1" width="2.6" height="2.6" fill="#479b2a"/>
<rect x="174.5" y="190.2" width="2.6" height="2.6" fill="#479b2a"/>
<rect x="170.5" y="191.7" width="2.6" height="2.6" fill="#479b2a"/>
<rect x="172.7" y="192.7" width="2.6" height="2.6" fill="#479b2a"/>
<rect x="171.7" y="191.9" width="2.6" height="2.6" fill="#479b2a"/>
<text transform="translate(125.8 209.6) rotate(-45)" font-size="6" fill="#222" stroke="#222" stroke-width="0.18" text-anchor="end" textLength="13.6" lengthAdjust="spacingAndGlyphs">11Gy</text>
<text transform="translate(138.9 209.6) rotate(-45)" font-size="6" fill="#222" stroke="#222" stroke-width="0.18" text-anchor="end" textLength="16" lengthAdjust="spacingAndGlyphs">6.6Gy</text>
<text transform="translate(161.8 209.6) rotate(-45)" font-size="6" fill="#222" stroke="#222" stroke-width="0.18" text-anchor="end" textLength="13.6" lengthAdjust="spacingAndGlyphs">11Gy</text>
<text transform="translate(175.6 209.6) rotate(-45)" font-size="6" fill="#222" stroke="#222" stroke-width="0.18" text-anchor="end" textLength="16" lengthAdjust="spacingAndGlyphs">6.6Gy</text>
<circle cx="128.7" cy="140.3" r="1.2" fill="#479b2a"/>
<text x="132.9" y="142.42" font-size="5.9" fill="#333" stroke="#333" stroke-width="0.1" textLength="33" lengthAdjust="spacingAndGlyphs">Platelet-FIX:Ag</text>
<rect x="127.6" y="148" width="2.2" height="2.2" fill="#479b2a"/>
<text x="132.9" y="151.22" font-size="5.9" fill="#333" stroke="#333" stroke-width="0.1" textLength="30.7" lengthAdjust="spacingAndGlyphs">Platelet-FIX:C</text>
<text transform="translate(85.9 176.8) rotate(-90)" font-size="7.3" fill="#222" stroke="#222" stroke-width="0.28" text-anchor="middle" textLength="49.4" lengthAdjust="spacingAndGlyphs" font-style="italic">Average platelet-FIX</text>
<text transform="translate(96.1 177.35) rotate(-90)" font-size="7.3" fill="#222" stroke="#222" stroke-width="0.28" text-anchor="middle" textLength="73.7" lengthAdjust="spacingAndGlyphs">expression (mU/10<tspan font-size="4" dy="-2.6">8</tspan><tspan dy="2.6"> platelets)</tspan></text>
<line x1="232.4" y1="152.5" x2="232.4" y2="201.8" stroke="#363636" stroke-width="1.8"/>
<line x1="229.8" y1="155.8" x2="232.4" y2="155.8" stroke="#363636" stroke-width="1.1"/>
<text x="227.6" y="158.03" font-size="6.2" fill="#222" stroke="#222" stroke-width="0.18" text-anchor="end">8</text>
<line x1="229.8" y1="167.1" x2="232.4" y2="167.1" stroke="#363636" stroke-width="1.1"/>
<text x="227.6" y="169.33" font-size="6.2" fill="#222" stroke="#222" stroke-width="0.18" text-anchor="end">6</text>
<line x1="229.8" y1="178.5" x2="232.4" y2="178.5" stroke="#363636" stroke-width="1.1"/>
<text x="227.6" y="180.73" font-size="6.2" fill="#222" stroke="#222" stroke-width="0.18" text-anchor="end">4</text>
<line x1="229.8" y1="189.9" x2="232.4" y2="189.9" stroke="#363636" stroke-width="1.1"/>
<text x="227.6" y="192.13" font-size="6.2" fill="#222" stroke="#222" stroke-width="0.18" text-anchor="end">2</text>
<line x1="229.8" y1="201.2" x2="232.4" y2="201.2" stroke="#363636" stroke-width="1.1"/>
<text x="227.6" y="203.43" font-size="6.2" fill="#222" stroke="#222" stroke-width="0.18" text-anchor="end">0</text>
<line x1="231.8" y1="201.2" x2="298" y2="201.2" stroke="#363636" stroke-width="1.8"/>
<line x1="239.8" y1="201.2" x2="239.8" y2="204.2" stroke="#363636" stroke-width="1.1"/>
<text x="239.8" y="212.33" font-size="6.2" fill="#222" stroke="#222" stroke-width="0.18" text-anchor="middle">4</text>
<line x1="250.67" y1="201.2" x2="250.67" y2="204.2" stroke="#363636" stroke-width="1.1"/>
<text x="250.67" y="212.33" font-size="6.2" fill="#222" stroke="#222" stroke-width="0.18" text-anchor="middle">8</text>
<line x1="261.54" y1="201.2" x2="261.54" y2="204.2" stroke="#363636" stroke-width="1.1"/>
<text x="261.54" y="212.33" font-size="6.2" fill="#222" stroke="#222" stroke-width="0.18" text-anchor="middle">12</text>
<line x1="272.41" y1="201.2" x2="272.41" y2="204.2" stroke="#363636" stroke-width="1.1"/>
<text x="272.41" y="212.33" font-size="6.2" fill="#222" stroke="#222" stroke-width="0.18" text-anchor="middle">16</text>
<line x1="283.28" y1="201.2" x2="283.28" y2="204.2" stroke="#363636" stroke-width="1.1"/>
<text x="283.28" y="212.33" font-size="6.2" fill="#222" stroke="#222" stroke-width="0.18" text-anchor="middle">20</text>
<line x1="294.15" y1="201.2" x2="294.15" y2="204.2" stroke="#363636" stroke-width="1.1"/>
<text x="294.15" y="212.33" font-size="6.2" fill="#222" stroke="#222" stroke-width="0.18" text-anchor="middle">24</text>
<text x="245" y="223.9" font-size="8.8" fill="#222" font-weight="bold" textLength="44.8" lengthAdjust="spacingAndGlyphs">Weeks post-HSCT</text>
<polyline points="239.8,191.3 250.67,179.9 261.54,172.7 272.41,167 283.28,178.3 294.15,171.2" fill="none" stroke="#62ad42" stroke-width="1"/>
<polyline points="239.8,193.4 250.67,182.6 261.54,175.4 272.41,174.1 283.28,178.9 294.15,167.9" fill="none" stroke="#62ad42" stroke-width="1"/>
<line x1="239.8" y1="186.6" x2="239.8" y2="200.3" stroke="#62ad42" stroke-width="0.9"/>
<line x1="238.3" y1="186.6" x2="241.3" y2="186.6" stroke="#62ad42" stroke-width="0.9"/>
<line x1="238.3" y1="200.3" x2="241.3" y2="200.3" stroke="#62ad42" stroke-width="0.9"/>
<line x1="250.67" y1="173.3" x2="250.67" y2="193" stroke="#62ad42" stroke-width="0.9"/>
<line x1="249.17" y1="173.3" x2="252.17" y2="173.3" stroke="#62ad42" stroke-width="0.9"/>
<line x1="249.17" y1="193" x2="252.17" y2="193" stroke="#62ad42" stroke-width="0.9"/>
<line x1="261.54" y1="168.5" x2="261.54" y2="183" stroke="#62ad42" stroke-width="0.9"/>
<line x1="260.04" y1="168.5" x2="263.04" y2="168.5" stroke="#62ad42" stroke-width="0.9"/>
<line x1="260.04" y1="183" x2="263.04" y2="183" stroke="#62ad42" stroke-width="0.9"/>
<line x1="272.41" y1="160.2" x2="272.41" y2="184.7" stroke="#62ad42" stroke-width="0.9"/>
<line x1="270.91" y1="160.2" x2="273.91" y2="160.2" stroke="#62ad42" stroke-width="0.9"/>
<line x1="270.91" y1="184.7" x2="273.91" y2="184.7" stroke="#62ad42" stroke-width="0.9"/>
<line x1="283.28" y1="174.1" x2="283.28" y2="187.2" stroke="#62ad42" stroke-width="0.9"/>
<line x1="281.78" y1="174.1" x2="284.78" y2="174.1" stroke="#62ad42" stroke-width="0.9"/>
<line x1="281.78" y1="187.2" x2="284.78" y2="187.2" stroke="#62ad42" stroke-width="0.9"/>
<line x1="294.15" y1="166.4" x2="294.15" y2="177.8" stroke="#62ad42" stroke-width="0.9"/>
<line x1="292.65" y1="166.4" x2="295.65" y2="166.4" stroke="#62ad42" stroke-width="0.9"/>
<line x1="292.65" y1="177.8" x2="295.65" y2="177.8" stroke="#62ad42" stroke-width="0.9"/>
<circle cx="239.8" cy="191.3" r="1.6" fill="#479b2a"/>
<circle cx="250.67" cy="179.9" r="1.6" fill="#479b2a"/>
<circle cx="261.54" cy="172.7" r="1.6" fill="#479b2a"/>
<circle cx="272.41" cy="167" r="1.6" fill="#479b2a"/>
<circle cx="283.28" cy="178.3" r="1.6" fill="#479b2a"/>
<circle cx="294.15" cy="171.2" r="1.6" fill="#479b2a"/>
<rect x="238.3" y="191.9" width="3" height="3" fill="#479b2a"/>
<rect x="249.17" y="181.1" width="3" height="3" fill="#479b2a"/>
<rect x="260.04" y="173.9" width="3" height="3" fill="#479b2a"/>
<rect x="270.91" y="172.6" width="3" height="3" fill="#479b2a"/>
<rect x="281.78" y="177.4" width="3" height="3" fill="#479b2a"/>
<rect x="292.65" y="166.4" width="3" height="3" fill="#479b2a"/>
<line x1="246.9" y1="140.3" x2="254.8" y2="140.3" stroke="#62ad42" stroke-width="1"/>
<circle cx="250.6" cy="140.3" r="1.6" fill="#479b2a"/>
<text x="257.9" y="142.42" font-size="5.9" fill="#333" stroke="#333" stroke-width="0.1" textLength="28.8" lengthAdjust="spacingAndGlyphs">11Gy (n = 6)</text>
<line x1="246.9" y1="149.1" x2="254.8" y2="149.1" stroke="#62ad42" stroke-width="1"/>
<rect x="249.1" y="147.6" width="3" height="3" fill="#479b2a"/>
<text x="257.9" y="151.22" font-size="5.9" fill="#333" stroke="#333" stroke-width="0.1" textLength="29.6" lengthAdjust="spacingAndGlyphs">6.6Gy (n = 7)</text>
<text transform="translate(207.9 176.65) rotate(-90)" font-size="7.3" fill="#222" stroke="#222" stroke-width="0.28" text-anchor="middle" textLength="19.3" lengthAdjust="spacingAndGlyphs">Ratio of</text>
<text transform="translate(218.2 176.7) rotate(-90)" font-size="7.3" fill="#222" stroke="#222" stroke-width="0.28" text-anchor="middle" textLength="50" lengthAdjust="spacingAndGlyphs">Plt-FIX:C/Plt-FIX:Ag</text>
<line x1="337.9" y1="152.5" x2="337.9" y2="201.3" stroke="#363636" stroke-width="1.8"/>
<line x1="335.3" y1="155.8" x2="337.9" y2="155.8" stroke="#363636" stroke-width="1.1"/>
<text x="334.2" y="158.03" font-size="6.2" fill="#222" stroke="#222" stroke-width="0.18" text-anchor="end">15</text>
<line x1="335.3" y1="170.7" x2="337.9" y2="170.7" stroke="#363636" stroke-width="1.1"/>
<text x="334.2" y="172.93" font-size="6.2" fill="#222" stroke="#222" stroke-width="0.18" text-anchor="end">10</text>
<line x1="335.3" y1="185.7" x2="337.9" y2="185.7" stroke="#363636" stroke-width="1.1"/>
<text x="334.2" y="187.93" font-size="6.2" fill="#222" stroke="#222" stroke-width="0.18" text-anchor="end">5</text>
<line x1="335.3" y1="200.7" x2="337.9" y2="200.7" stroke="#363636" stroke-width="1.1"/>
<text x="334.2" y="202.93" font-size="6.2" fill="#222" stroke="#222" stroke-width="0.18" text-anchor="end">0</text>
<rect x="347.1" y="187" width="14.1" height="13.7" fill="#b9d99f"/>
<rect x="369.1" y="181.7" width="14" height="19" fill="#8a98c4"/>
<line x1="337.3" y1="200.7" x2="388.5" y2="200.7" stroke="#363636" stroke-width="1.8"/>
<line x1="354.1" y1="200.7" x2="354.1" y2="203.7" stroke="#363636" stroke-width="1.1"/>
<line x1="376.5" y1="200.7" x2="376.5" y2="203.7" stroke="#363636" stroke-width="1.1"/>
<line x1="353.9" y1="178.3" x2="353.9" y2="187" stroke="#62ad42" stroke-width="1"/>
<line x1="350.5" y1="178.3" x2="357.5" y2="178.3" stroke="#62ad42" stroke-width="1"/>
<line x1="376.5" y1="169.7" x2="376.5" y2="182" stroke="#1f3c7a" stroke-width="1.3"/>
<line x1="373.2" y1="169.9" x2="379.6" y2="169.9" stroke="#1f3c7a" stroke-width="1"/>
<circle cx="353.9" cy="174.8" r="1.6" fill="#4ea53a"/>
<circle cx="353.9" cy="186.6" r="1.6" fill="#4ea53a"/>
<circle cx="356.4" cy="190.8" r="1.6" fill="#4ea53a"/>
<circle cx="351.8" cy="193.4" r="1.6" fill="#4ea53a"/>
<circle cx="376.4" cy="161.3" r="1.65" fill="#1f3c7a"/>
<circle cx="376.4" cy="168.3" r="1.65" fill="#1f3c7a"/>
<circle cx="376.4" cy="178.2" r="1.65" fill="#1f3c7a"/>
<circle cx="373.3" cy="182.8" r="1.65" fill="#1f3c7a"/>
<circle cx="378.6" cy="185.2" r="1.65" fill="#1f3c7a"/>
<circle cx="371.5" cy="190.3" r="1.65" fill="#1f3c7a"/>
<circle cx="376.2" cy="192.7" r="1.65" fill="#1f3c7a"/>
<circle cx="381" cy="191.3" r="1.65" fill="#1f3c7a"/>
<polyline points="353.3,157.6 353.3,154.8 376.3,154.8 376.3,157.6" fill="none" stroke="#333" stroke-width="1.15"/>
<text x="364.8" y="152.2" font-size="4.6" fill="#444" stroke="#444" stroke-width="0.1" text-anchor="middle" textLength="6.6" lengthAdjust="spacingAndGlyphs">n.s.</text>
<text x="354.2" y="212.7" font-size="6" fill="#222" stroke="#222" stroke-width="0.18" text-anchor="middle">1°</text>
<text x="376.6" y="212.7" font-size="6" fill="#222" stroke="#222" stroke-width="0.18" text-anchor="middle">2°</text>
<line x1="344.8" y1="216.8" x2="385" y2="216.8" stroke="#444" stroke-width="1.3"/>
<text x="365.1" y="225.1" font-size="6.4" fill="#222" stroke="#222" stroke-width="0.18" text-anchor="middle" textLength="41.1" lengthAdjust="spacingAndGlyphs">2bCoF9R338L-</text>
<text x="364.8" y="233.2" font-size="6.4" fill="#222" stroke="#222" stroke-width="0.18" text-anchor="middle" textLength="57.3" lengthAdjust="spacingAndGlyphs">transduced recipients</text>
<text transform="translate(311 177) rotate(-90)" font-size="7.3" fill="#222" stroke="#222" stroke-width="0.28" text-anchor="middle" textLength="56.7" lengthAdjust="spacingAndGlyphs">Average platelet-FIX:C</text>
<text transform="translate(319.6 177.7) rotate(-90)" font-size="7.3" fill="#222" stroke="#222" stroke-width="0.28" text-anchor="middle" textLength="46.5" lengthAdjust="spacingAndGlyphs">(mU/10<tspan font-size="4" dy="-2.6">8</tspan><tspan dy="2.6"> platelets)</tspan></text>
<line x1="445.4" y1="152.5" x2="445.4" y2="201.8" stroke="#363636" stroke-width="1.8"/>
<line x1="442.8" y1="155.7" x2="445.4" y2="155.7" stroke="#363636" stroke-width="1.1"/>
<text x="440.6" y="157.93" font-size="6.2" fill="#222" stroke="#222" stroke-width="0.18" text-anchor="end">25</text>
<line x1="442.8" y1="164.8" x2="445.4" y2="164.8" stroke="#363636" stroke-width="1.1"/>
<text x="440.6" y="167.03" font-size="6.2" fill="#222" stroke="#222" stroke-width="0.18" text-anchor="end">20</text>
<line x1="442.8" y1="174" x2="445.4" y2="174" stroke="#363636" stroke-width="1.1"/>
<text x="440.6" y="176.23" font-size="6.2" fill="#222" stroke="#222" stroke-width="0.18" text-anchor="end">15</text>
<line x1="442.8" y1="183.1" x2="445.4" y2="183.1" stroke="#363636" stroke-width="1.1"/>
<text x="440.6" y="185.33" font-size="6.2" fill="#222" stroke="#222" stroke-width="0.18" text-anchor="end">10</text>
<line x1="442.8" y1="192.4" x2="445.4" y2="192.4" stroke="#363636" stroke-width="1.1"/>
<text x="440.6" y="194.63" font-size="6.2" fill="#222" stroke="#222" stroke-width="0.18" text-anchor="end">5</text>
<line x1="442.8" y1="201.2" x2="445.4" y2="201.2" stroke="#363636" stroke-width="1.1"/>
<text x="440.6" y="203.43" font-size="6.2" fill="#222" stroke="#222" stroke-width="0.18" text-anchor="end">0</text>
<line x1="444.8" y1="201.2" x2="513.4" y2="201.2" stroke="#363636" stroke-width="1.8"/>
<line x1="451.8" y1="201.2" x2="451.8" y2="204.2" stroke="#363636" stroke-width="1.1"/>
<text x="451.8" y="212.33" font-size="6.2" fill="#222" stroke="#222" stroke-width="0.18" text-anchor="middle">5</text>
<line x1="461.13" y1="201.2" x2="461.13" y2="204.2" stroke="#363636" stroke-width="1.1"/>
<text x="461.13" y="212.33" font-size="6.2" fill="#222" stroke="#222" stroke-width="0.18" text-anchor="middle">11</text>
<line x1="470.46" y1="201.2" x2="470.46" y2="204.2" stroke="#363636" stroke-width="1.1"/>
<text x="470.46" y="212.33" font-size="6.2" fill="#222" stroke="#222" stroke-width="0.18" text-anchor="middle">18</text>
<line x1="479.79" y1="201.2" x2="479.79" y2="204.2" stroke="#363636" stroke-width="1.1"/>
<text x="479.79" y="212.33" font-size="6.2" fill="#222" stroke="#222" stroke-width="0.18" text-anchor="middle">30</text>
<line x1="489.12" y1="201.2" x2="489.12" y2="204.2" stroke="#363636" stroke-width="1.1"/>
<text x="489.12" y="212.33" font-size="6.2" fill="#222" stroke="#222" stroke-width="0.18" text-anchor="middle">40</text>
<line x1="498.45" y1="201.2" x2="498.45" y2="204.2" stroke="#363636" stroke-width="1.1"/>
<text x="498.45" y="212.33" font-size="6.2" fill="#222" stroke="#222" stroke-width="0.18" text-anchor="middle">56</text>
<line x1="507.78" y1="201.2" x2="507.78" y2="204.2" stroke="#363636" stroke-width="1.1"/>
<text x="507.78" y="212.33" font-size="6.2" fill="#222" stroke="#222" stroke-width="0.18" text-anchor="middle">70</text>
<text x="458.7" y="223.9" font-size="8.8" fill="#222" font-weight="bold" textLength="44.2" lengthAdjust="spacingAndGlyphs">Weeks post-HSCT</text>
<polyline points="451.8,196.7 461.13,192.9 470.46,189.2 479.79,186 489.12,178.5 498.45,178 507.78,172.1" fill="none" stroke="#1f3c7a" stroke-width="1"/>
<polyline points="451.8,200.2 461.13,199.5 470.46,198.3 479.79,197.4 489.12,196.3 498.45,197.4 507.78,196.7" fill="none" stroke="#1f3c7a" stroke-width="1"/>
<line x1="451.8" y1="195" x2="451.8" y2="196.7" stroke="#1f3c7a" stroke-width="1.15"/>
<line x1="450.2" y1="195" x2="453.4" y2="195" stroke="#1f3c7a" stroke-width="1.15"/>
<line x1="461.13" y1="190.6" x2="461.13" y2="192.9" stroke="#1f3c7a" stroke-width="1.15"/>
<line x1="459.53" y1="190.6" x2="462.73" y2="190.6" stroke="#1f3c7a" stroke-width="1.15"/>
<line x1="470.46" y1="187.2" x2="470.46" y2="189.2" stroke="#1f3c7a" stroke-width="1.15"/>
<line x1="468.86" y1="187.2" x2="472.06" y2="187.2" stroke="#1f3c7a" stroke-width="1.15"/>
<line x1="479.79" y1="180.8" x2="479.79" y2="186" stroke="#1f3c7a" stroke-width="1.15"/>
<line x1="478.19" y1="180.8" x2="481.39" y2="180.8" stroke="#1f3c7a" stroke-width="1.15"/>
<line x1="489.12" y1="166.4" x2="489.12" y2="178.5" stroke="#1f3c7a" stroke-width="1.15"/>
<line x1="487.52" y1="166.4" x2="490.72" y2="166.4" stroke="#1f3c7a" stroke-width="1.15"/>
<line x1="498.45" y1="166.4" x2="498.45" y2="178" stroke="#1f3c7a" stroke-width="1.15"/>
<line x1="496.85" y1="166.4" x2="500.05" y2="166.4" stroke="#1f3c7a" stroke-width="1.15"/>
<line x1="507.78" y1="158" x2="507.78" y2="172.1" stroke="#1f3c7a" stroke-width="1.15"/>
<line x1="506.18" y1="158" x2="509.38" y2="158" stroke="#1f3c7a" stroke-width="1.15"/>
<line x1="489.12" y1="193.3" x2="489.12" y2="196.3" stroke="#1f3c7a" stroke-width="1.15"/>
<line x1="487.52" y1="193.3" x2="490.72" y2="193.3" stroke="#1f3c7a" stroke-width="1.15"/>
<line x1="498.45" y1="194.5" x2="498.45" y2="197.4" stroke="#1f3c7a" stroke-width="1.15"/>
<line x1="496.85" y1="194.5" x2="500.05" y2="194.5" stroke="#1f3c7a" stroke-width="1.15"/>
<line x1="507.78" y1="193.3" x2="507.78" y2="196.7" stroke="#1f3c7a" stroke-width="1.15"/>
<line x1="506.18" y1="193.3" x2="509.38" y2="193.3" stroke="#1f3c7a" stroke-width="1.15"/>
<circle cx="451.8" cy="196.7" r="1.5" fill="#1f3c7a"/>
<circle cx="461.13" cy="192.9" r="1.5" fill="#1f3c7a"/>
<circle cx="470.46" cy="189.2" r="1.5" fill="#1f3c7a"/>
<circle cx="479.79" cy="186" r="1.5" fill="#1f3c7a"/>
<circle cx="489.12" cy="178.5" r="1.5" fill="#1f3c7a"/>
<circle cx="498.45" cy="178" r="1.5" fill="#1f3c7a"/>
<circle cx="507.78" cy="172.1" r="1.5" fill="#1f3c7a"/>
<circle cx="451.8" cy="200.2" r="1.3" fill="#1f3c7a"/>
<circle cx="461.13" cy="199.5" r="1.3" fill="#1f3c7a"/>
<circle cx="470.46" cy="198.3" r="1.3" fill="#1f3c7a"/>
<circle cx="479.79" cy="197.4" r="1.3" fill="#1f3c7a"/>
<circle cx="489.12" cy="196.3" r="1.3" fill="#1f3c7a"/>
<circle cx="498.45" cy="197.4" r="1.3" fill="#1f3c7a"/>
<circle cx="507.78" cy="196.7" r="1.3" fill="#1f3c7a"/>
<text x="462.4" y="186.2" font-size="5.6" fill="#222" stroke="#222" stroke-width="0.18" text-anchor="middle" textLength="9.8" lengthAdjust="spacingAndGlyphs">n=3</text>
<line x1="458.1" y1="140.3" x2="465.9" y2="140.3" stroke="#1f3c7a" stroke-width="1"/>
<circle cx="461.9" cy="140.3" r="1.4" fill="#1f3c7a"/>
<text x="469" y="142.42" font-size="5.9" fill="#333" stroke="#333" stroke-width="0.1" textLength="32.9" lengthAdjust="spacingAndGlyphs">Platelet-FIX:Ag</text>
<line x1="458.1" y1="149.1" x2="465.9" y2="149.1" stroke="#1f3c7a" stroke-width="1"/>
<circle cx="461.9" cy="149.1" r="1.4" fill="#1f3c7a"/>
<text x="469" y="151.22" font-size="5.9" fill="#333" stroke="#333" stroke-width="0.1" textLength="30.4" lengthAdjust="spacingAndGlyphs">Platelet-FIX:C</text>
<text transform="translate(417.5 176.8) rotate(-90)" font-size="7.3" fill="#222" stroke="#222" stroke-width="0.28" text-anchor="middle" textLength="57.2" lengthAdjust="spacingAndGlyphs">Platelet-FIX expression</text>
<text transform="translate(427 176.75) rotate(-90)" font-size="7.3" fill="#222" stroke="#222" stroke-width="0.28" text-anchor="middle" textLength="45" lengthAdjust="spacingAndGlyphs">(mU/10<tspan font-size="4" dy="-2.6">8</tspan><tspan dy="2.6"> platelets)</tspan></text>
</svg>
</body></html>
